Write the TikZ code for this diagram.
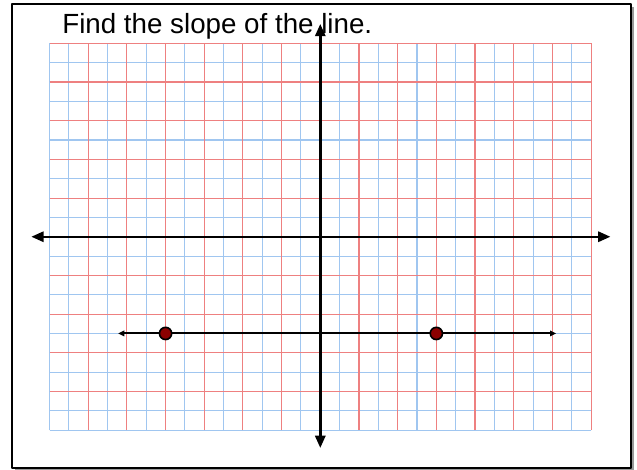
\documentclass[tikz,border=0pt]{standalone}
\usepackage{fontspec}
\setmainfont{Liberation Sans}
\usepackage{xcolor}
\usetikzlibrary{arrows.meta}
\definecolor{gridred}{RGB}{238,128,128}
\definecolor{gridblue}{RGB}{160,198,240}
\definecolor{ptred}{RGB}{140,0,0}
\tikzset{
  axis/.style={line width=1.8pt,{Triangle[length=9pt,width=7.5pt]}-{Triangle[length=9pt,width=7.5pt]}},
  given/.style={line width=1.4pt,{Triangle[length=4.5pt,width=4pt]}-{Triangle[length=4.5pt,width=4pt]}},
  dot/.style={circle,fill=ptred,draw=black,line width=1.2pt,minimum size=9pt,inner sep=0pt}
}

\begin{document}
\begin{tikzpicture}[x=0.5cm,y=0.5cm,line join=round]
  \useasboundingbox (-16.56,-12.06) rectangle (16.375,12.24);
  % frame with shadow
  \fill[gray!80] (-15.80,-12.06) rectangle (16.22,11.87);
  \draw[fill=white,line width=1.5pt] (-15.94,-11.94) rectangle (16.07,12.01);
  % graph paper
  \draw[gridblue,line width=0.8pt,step=0.5cm] (-14,-10) grid (14,10);
  \draw[gridred,line width=0.8pt,step=1cm] (-14,-10) grid (14,10);
  % title
  \node[anchor=base west,inner sep=0pt,font=\fontsize{20.4}{24}\selectfont] (title) at (-13.35,10.52) {Find the slope of the line.};
  % axes
  \coordinate (XL) at (-14.94,0);
  \coordinate (XR) at (15.00,0);
  \coordinate (YB) at (0,-10.92);
  \coordinate (YT) at (0,11.00);
  \draw[axis] (XL) -- (XR);
  \draw[axis] (YB) -- (YT);
  % the line through the two points
  \coordinate (LL) at (-10.45,-5);
  \coordinate (LR) at (12.20,-5);
  \draw[given] (LL) -- (LR);
  \node[dot] (P) at (-8,-5) {};
  \node[dot] (Q) at (6,-5) {};
\end{tikzpicture}
\end{document}
